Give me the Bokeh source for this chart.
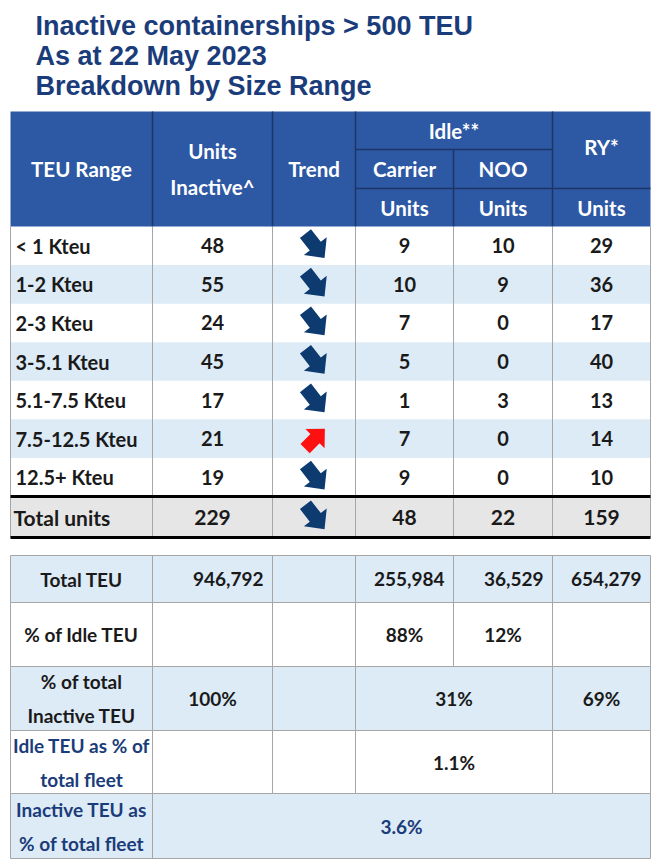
import math
from bokeh.plotting import figure
from bokeh.models import Range1d
from bokeh.embed import file_html
from bokeh.resources import INLINE
from bokeh.core.properties import value

# ---------------- data ----------------
title_lines = ["Inactive containerships > 500 TEU", "As at 22 May 2023", "Breakdown by Size Range"]

size_ranges = ["< 1 Kteu", "1-2 Kteu", "2-3 Kteu", "3-5.1 Kteu", "5.1-7.5 Kteu", "7.5-12.5 Kteu", "12.5+ Kteu"]
units_inactive = [48, 55, 24, 45, 17, 21, 19]
trend = ["down", "down", "down", "down", "down", "up", "down"]
idle_carrier = [9, 10, 7, 5, 1, 7, 9]
idle_noo = [10, 9, 0, 0, 3, 0, 0]
ry_units = [29, 36, 17, 40, 13, 14, 10]

total_label = "Total units"
total_inactive = 229
total_trend = "down"
total_carrier = 48
total_noo = 22
total_ry = 159

summary_labels = [["Total TEU"], ["% of Idle TEU"], ["% of total", "Inactive TEU"],
                  ["Idle TEU as % of", "total fleet"], ["Inactive TEU as", "% of total fleet"]]
total_teu = [946792, 255984, 36529, 654279]   # inactive, carrier, NOO, RY
pct_idle_teu = ["88%", "12%"]                # carrier, NOO
pct_inactive_teu = ["100%", "31%", "69%"]    # inactive, idle, RY
idle_pct_fleet = "1.1%"
inactive_pct_fleet = "3.6%"

# ---------------- layout / style ----------------
W, H = 652, 862
FONT = value("Lato")
TITLE_FONT = value("Liberation Sans")
NAVY = "#1B3C7A"
HDR_BLUE = "#2D58A4"
HDR_LINE = "#1C3566"
LIGHT = "#DDEBF7"
GRAY_ROW = "#E7E6E6"
GRID = "#A6A6A6"
DARK = "#1A1A1A"
ARROW_DOWN = "#0D3B70"
ARROW_UP = "#FF1010"

cols = [10, 152, 272, 355, 453, 552, 650]
ccen = [(cols[i] + cols[i + 1]) / 2 for i in range(6)]
hdr = [111, 149, 188, 226]
data_top, total_top, total_bot = 226, 496, 537
rh = (total_top - data_top) / len(size_ranges)
rows = [data_top + rh * i for i in range(len(size_ranges) + 1)]
rcen = [(rows[i] + rows[i + 1]) / 2 for i in range(len(size_ranges))]
srows = [555, 602, 666, 730, 793, 858]
scen = [(srows[i] + srows[i + 1]) / 2 for i in range(5)]

p = figure(width=W, height=H, output_backend="svg", toolbar_location=None,
           x_range=Range1d(0, W), y_range=Range1d(H, 0),
           min_border=0, background_fill_color="white", border_fill_color="white")
p.axis.visible = False
p.grid.visible = False
p.outline_line_color = None


def txt(xs, ys, texts, align="center", color=DARK, size="20px", font=FONT):
    p.text(x=xs, y=ys, text=[str(t) for t in texts], text_align=align, text_baseline="middle",
           text_color=color, text_font_size=size, text_font=font, text_font_style="bold")


def arrow(cx, cy, direction):
    if direction == "down":
        ang, L, sw, hw, hl, col = math.radians(52), 31, 7.0, 14.5, 15, ARROW_DOWN
    else:
        ang, L, sw, hw, hl, col = math.radians(-45), 28, 6.5, 13.5, 14, ARROW_UP
    hb = L / 2 - hl
    pts = [(-L / 2, -sw), (hb, -sw), (hb, -hw), (L / 2, 0), (hb, hw), (hb, sw), (-L / 2, sw)]
    xs = [cx + u * math.cos(ang) - v * math.sin(ang) for u, v in pts]
    ys = [cy + u * math.sin(ang) + v * math.cos(ang) for u, v in pts]
    return xs, ys, col


# ---------------- title ----------------
txt([35] * 3, [25, 55, 85], title_lines, align="left", color=NAVY, size="27px", font=TITLE_FONT)

# ---------------- header ----------------
p.quad(left=[cols[0]], right=[cols[-1]], top=[hdr[0]], bottom=[hdr[-1]], fill_color=HDR_BLUE, line_color=None)
hx0 = [cols[1], cols[2], cols[3], cols[4], cols[5], cols[3], cols[3]]
hx1 = [cols[1], cols[2], cols[3], cols[4], cols[5], cols[5], cols[6]]
hy0 = [hdr[0], hdr[0], hdr[0], hdr[1], hdr[0], hdr[1], hdr[2]]
hy1 = [hdr[3], hdr[3], hdr[3], hdr[3], hdr[3], hdr[1], hdr[2]]
p.segment(x0=hx0, y0=hy0, x1=hx1, y1=hy1, line_color=HDR_LINE, line_width=1.5)
hc = (hdr[0] + hdr[3]) / 2
txt([ccen[0], ccen[1], ccen[1], ccen[2]], [hc, hc - 18, hc + 18, hc],
    ["TEU Range", "Units", "Inactive^", "Trend"], color="white", size="20.5px")
txt([(cols[3] + cols[5]) / 2, ccen[3], ccen[4], ccen[5]],
    [(hdr[0] + hdr[1]) / 2, (hdr[1] + hdr[2]) / 2, (hdr[1] + hdr[2]) / 2, (hdr[0] + hdr[2]) / 2 - 3],
    ["Idle**", "Carrier", "NOO", "RY*"], color="white", size="20.5px")
txt([ccen[3], ccen[4], ccen[5]], [(hdr[2] + hdr[3]) / 2] * 3, ["Units"] * 3, color="white", size="20.5px")

# ---------------- data rows ----------------
shade = [i for i in range(len(size_ranges)) if i % 2 == 1]
p.quad(left=[cols[0]] * len(shade), right=[cols[-1]] * len(shade),
       top=[rows[i] for i in shade], bottom=[rows[i + 1] for i in shade], fill_color=LIGHT, line_color=None)
p.quad(left=[cols[0]], right=[cols[-1]], top=[total_top], bottom=[total_bot], fill_color=GRAY_ROW, line_color=None)
p.segment(x0=cols, y0=[data_top] * len(cols), x1=cols, y1=[total_bot] * len(cols), line_color=GRID, line_width=1)

txt([cols[0] + 5] * len(size_ranges), rcen, size_ranges, align="left")
for vals, c in [(units_inactive, 1), (idle_carrier, 3), (idle_noo, 4), (ry_units, 5)]:
    txt([ccen[c]] * len(vals), rcen, vals)

arrows = [arrow(ccen[2] + 1, y, d) for y, d in zip(rcen, trend)]
arrows.append(arrow(ccen[2] + 1, (total_top + total_bot) / 2, total_trend))
p.patches(xs=[a[0] for a in arrows], ys=[a[1] for a in arrows], fill_color=[a[2] for a in arrows], line_color=None)

tc = (total_top + total_bot) / 2
txt([cols[0] + 3], [tc], [total_label], align="left", size="21px")
txt([ccen[1], ccen[3], ccen[4], ccen[5]], [tc] * 4, [total_inactive, total_carrier, total_noo, total_ry], size="21px")
p.segment(x0=[cols[0]] * 2, y0=[total_top, total_bot], x1=[cols[-1]] * 2, y1=[total_top, total_bot],
          line_color="black", line_width=3)

# ---------------- summary table ----------------
sh = [0, 2, 4]
p.quad(left=[cols[0]] * 3, right=[cols[-1]] * 3, top=[srows[i] for i in sh], bottom=[srows[i + 1] for i in sh],
       fill_color=LIGHT, line_color=None)
p.segment(x0=[cols[0]] * len(srows), y0=srows, x1=[cols[-1]] * len(srows), y1=srows, line_color=GRID, line_width=1)
vx, vy0, vy1 = [], [], []
row_cols = [[0, 1, 2, 3, 4, 5, 6], [0, 1, 2, 3, 4, 5, 6], [0, 1, 2, 3, 5, 6], [0, 1, 2, 3, 5, 6], [0, 1, 6]]
for r, cl in enumerate(row_cols):
    for c in cl:
        vx.append(cols[c]); vy0.append(srows[r]); vy1.append(srows[r + 1])
p.segment(x0=vx, y0=vy0, x1=vx, y1=vy1, line_color=GRID, line_width=1)

lab_colors = [DARK, DARK, DARK, NAVY, NAVY]
for r, lines in enumerate(summary_labels):
    n = len(lines)
    ys = [scen[r] + (k - (n - 1) / 2) * 34 for k in range(n)]
    txt([ccen[0]] * n, ys, lines, color=lab_colors[r], size="19px")

txt([cols[2] - 9, cols[4] - 9, cols[5] - 9, cols[6] - 9], [scen[0]] * 4,
    [f"{v:,}" for v in total_teu], align="right", size="19px")
txt([ccen[3], ccen[4]], [scen[1]] * 2, pct_idle_teu, size="19px")
txt([ccen[1], (cols[3] + cols[5]) / 2, ccen[5]], [scen[2]] * 3, pct_inactive_teu, size="19px")
txt([(cols[3] + cols[5]) / 2], [scen[3]], [idle_pct_fleet], size="19px")
txt([(cols[1] + cols[6]) / 2], [scen[4]], [inactive_pct_fleet], color=NAVY, size="19px")

open("out.html", "w").write(file_html(p, INLINE))
